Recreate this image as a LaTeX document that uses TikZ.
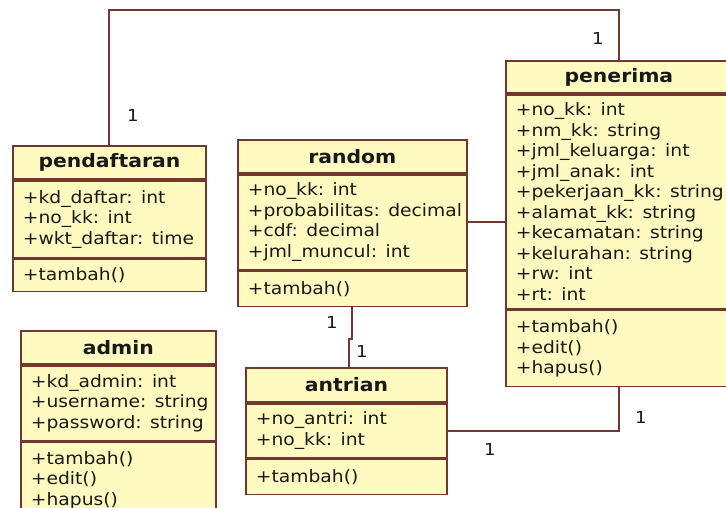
\documentclass[tikz,border=0pt]{standalone}
\usepackage{fontspec}
\setmainfont{DejaVu Sans}[FakeStretch=1.1]
\definecolor{umlfill}{RGB}{255,250,192}
\definecolor{umlline}{RGB}{115,55,50}
\definecolor{umltext}{RGB}{25,25,25}
\newcommand\umlrow[1]{\mbox{#1}}
\tikzset{
  boxbase/.style={draw=umlline, line width=1.8pt, fill=umlfill, anchor=north west, text=umltext},
  hdr/.style={boxbase, font=\fontsize{18.5}{20.5}\selectfont\bfseries, inner sep=0pt},
  sect/.style={boxbase, font=\fontsize{17}{20.5}\selectfont, align=left, inner xsep=10pt, inner ysep=0pt},
  conn/.style={draw=umlline, line width=2pt},
  lbl/.style={font=\fontsize{16.5}{16.5}\selectfont, text=umltext, inner sep=0pt}
}
\begin{document}
\begin{tikzpicture}[x=1pt, y=-1pt]
\useasboundingbox (0,0) rectangle (726,508);
\fill[white] (0,0) rectangle (726,508);
\clip (0,0) rectangle (726,508);

% pendaftaran
\node[hdr, minimum width=193pt, minimum height=33pt] (pdH) at (12,145) {pendaftaran};
\node[sect, minimum width=193pt, minimum height=77pt, text width=173pt] (pdA) at (pdH.south west)
  {\umlrow{+kd\_daftar: int}\\\umlrow{+no\_kk: int}\\\umlrow{+wkt\_daftar: time}};
\node[sect, minimum width=193pt, minimum height=32pt, text width=173pt] (pdM) at (pdA.south west)
  {\umlrow{+tambah()}};

% random
\node[hdr, minimum width=229pt, minimum height=33pt] (ranH) at (237,139) {random};
\node[sect, minimum width=229pt, minimum height=95pt, text width=209pt] (ranA) at (ranH.south west)
  {\umlrow{+no\_kk: int}\\\umlrow{+probabilitas: decimal}\\\umlrow{+cdf: decimal}\\\umlrow{+jml\_muncul: int}};
\node[sect, minimum width=229pt, minimum height=35pt, text width=209pt] (ranM) at (ranA.south west)
  {\umlrow{+tambah()}};

% penerima
\node[hdr, minimum width=226pt, minimum height=32pt] (penH) at (505,60) {penerima};
\node[sect, minimum width=226pt, minimum height=214pt, text width=206pt] (penA) at (penH.south west)
  {\umlrow{+no\_kk: int}\\\umlrow{+nm\_kk: string}\\\umlrow{+jml\_keluarga: int}\\\umlrow{+jml\_anak: int}\\\umlrow{+pekerjaan\_kk: string}\\\umlrow{+alamat\_kk: string}\\\umlrow{+kecamatan: string}\\\umlrow{+kelurahan: string}\\\umlrow{+rw: int}\\\umlrow{+rt: int}};
\node[sect, minimum width=226pt, minimum height=76pt, text width=206pt] (penM) at (penA.south west)
  {\umlrow{+tambah()}\\\umlrow{+edit()}\\\umlrow{+hapus()}};

% admin
\node[hdr, minimum width=195pt, minimum height=33pt] (admH) at (20,330) {admin};
\node[sect, minimum width=195pt, minimum height=75pt, text width=175pt] (admA) at (admH.south west)
  {\umlrow{+kd\_admin: int}\\\umlrow{+username: string}\\\umlrow{+password: string}};
\node[sect, minimum width=195pt, minimum height=75pt, text width=175pt] (admM) at (admA.south west)
  {\umlrow{+tambah()}\\\umlrow{+edit()}\\\umlrow{+hapus()}};

% antrian
\node[hdr, minimum width=201pt, minimum height=34pt] (antH) at (245,367) {antrian};
\node[sect, minimum width=201pt, minimum height=54pt, text width=181pt] (antA) at (antH.south west)
  {\umlrow{+no\_antri: int}\\\umlrow{+no\_kk: int}};
\node[sect, minimum width=201pt, minimum height=35pt, text width=181pt] (antM) at (antA.south west)
  {\umlrow{+tambah()}};

% connectors
\coordinate (topY) at (0,10);
\draw[conn] (pdH.north) |- (topY -| penH.north) -- (penH.north);
\draw[conn] (ranA.east) -- (ranA.east -| penA.west);
\coordinate (jog) at ([yshift=-32pt]ranM.south);
\coordinate (jogb) at ([xshift=-3.5pt]jog);
\draw[conn] (ranM.south) -- (jog) -- (jogb) -- (jogb |- antH.north);
\draw[conn] (antA.east) -| (penM.south);

% multiplicities
\node[lbl] (m1) at (133,115) {1};
\node[lbl] (m2) at (598,38) {1};
\node[lbl] (m3) at (332,322) {1};
\node[lbl] (m4) at (362,351) {1};
\node[lbl] (m5) at (641,417) {1};
\node[lbl] (m6) at (490,449) {1};
\end{tikzpicture}
\end{document}
